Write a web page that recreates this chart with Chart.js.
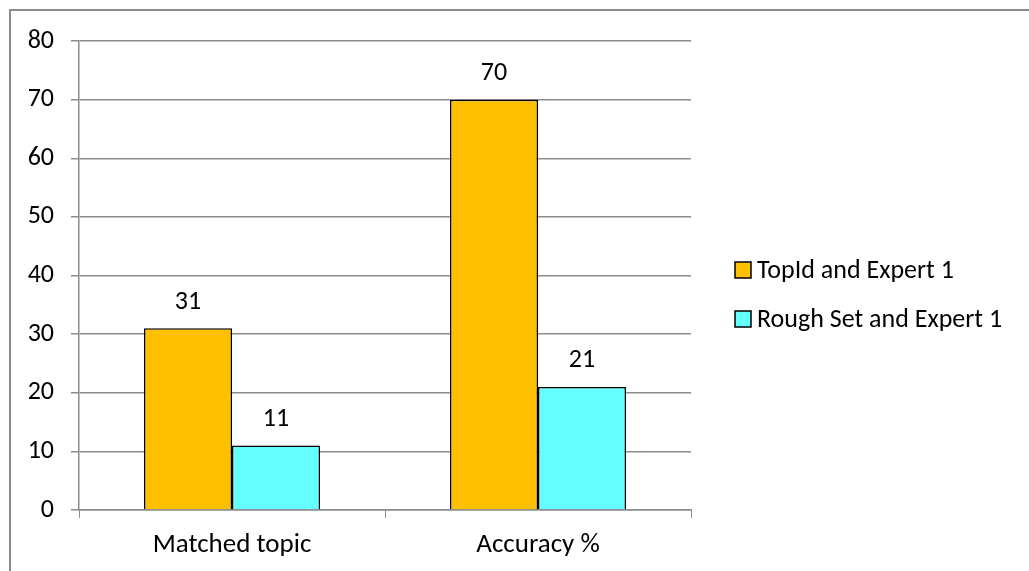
<!DOCTYPE html>
<html>
<head>
<meta charset="utf-8">
<script src="https://cdn.jsdelivr.net/npm/chart.js@4"></script>
<style>
  html, body { margin: 0; padding: 0; background: #fff; }
  #wrap { position: relative; width: 1029px; height: 571px; overflow: hidden; }
  #frame { position: absolute; left: 9px; top: 9px; width: 1100px; height: 700px; border-left: 2px solid #8c8c8c; border-top: 2px solid #8c8c8c; }
  canvas { position: absolute; left: 0; top: 0; }
</style>
</head>
<body>
<div id="wrap">
  <div id="frame"></div>
  <canvas id="chart" width="1029" height="571"></canvas>
</div>
<script>
const categories = ["Matched topic", "Accuracy %"];
const seriesNames = ["TopId and Expert 1", "Rough Set and Expert 1"];
const topIdValues = [31, 70];
const roughSetValues = [11, 21];
const yTicks = [0, 10, 20, 30, 40, 50, 60, 70, 80];

const FONT = "Carlito, Lato, 'Liberation Sans', sans-serif";

// value labels above each bar
const valueLabels = {
  id: "valueLabels",
  afterDatasetsDraw(chart) {
    const ctx = chart.ctx;
    ctx.save();
    ctx.font = "26px " + FONT;
    ctx.fillStyle = "#000";
    ctx.textAlign = "center";
    ctx.textBaseline = "middle";
    chart.data.datasets.forEach((ds, i) => {
      chart.getDatasetMeta(i).data.forEach((bar, j) => {
        ctx.fillText(String(ds.data[j]), bar.x, bar.y - 26);
      });
    });
    ctx.restore();
  }
};

// legend on the right, like the office chart
const sideLegend = {
  id: "sideLegend",
  afterDraw(chart) {
    const ctx = chart.ctx;
    const rows = [270, 319];
    ctx.save();
    ctx.font = "26px " + FONT;
    ctx.textBaseline = "middle";
    ctx.textAlign = "left";
    chart.data.datasets.forEach((ds, i) => {
      const y = rows[i];
      ctx.fillStyle = ds.backgroundColor;
      ctx.fillRect(735, y - 8, 16, 16);
      ctx.lineWidth = 1.5;
      ctx.strokeStyle = "#000";
      ctx.strokeRect(735, y - 8, 16, 16);
      ctx.fillStyle = "#000";
      ctx.fillText(ds.label, 757, y + 1);
    });
    ctx.restore();
  }
};

new Chart(document.getElementById("chart"), {
  type: "bar",
  data: {
    labels: categories,
    datasets: [
      {
        label: seriesNames[0],
        data: topIdValues,
        backgroundColor: "#FFC000",
        borderColor: "#000",
        borderWidth: 1.5,
        categoryPercentage: 0.575,
        barPercentage: 1
      },
      {
        label: seriesNames[1],
        data: roughSetValues,
        backgroundColor: "#66FFFF",
        borderColor: "#000",
        borderWidth: 1.5,
        categoryPercentage: 0.575,
        barPercentage: 1
      }
    ]
  },
  options: {
    responsive: false,
    animation: false,
    layout: { padding: { left: 10, right: 338, top: 41, bottom: 11 } },
    plugins: {
      legend: { display: false },
      tooltip: { enabled: false }
    },
    scales: {
      x: {
        afterFit: s => { s.height = 50; },
        grid: { drawOnChartArea: false, drawTicks: true, tickLength: 8, color: "#8c8c8c", offset: true },
        border: { color: "#8c8c8c", width: 1.5 },
        ticks: { color: "#000", font: { family: FONT, size: 27 }, padding: 11 }
      },
      y: {
        min: 0,
        max: 80,
        afterFit: s => { s.width = 69; },
        afterBuildTicks: s => { s.ticks = yTicks.map(v => ({ value: v })); },
        grid: { color: "#8c8c8c", lineWidth: 1.5, tickLength: 8 },
        border: { color: "#8c8c8c", width: 1.5 },
        ticks: { color: "#000", font: { family: FONT, size: 26 }, padding: 17 }
      }
    }
  },
  plugins: [valueLabels, sideLegend]
});
</script>
</body>
</html>
